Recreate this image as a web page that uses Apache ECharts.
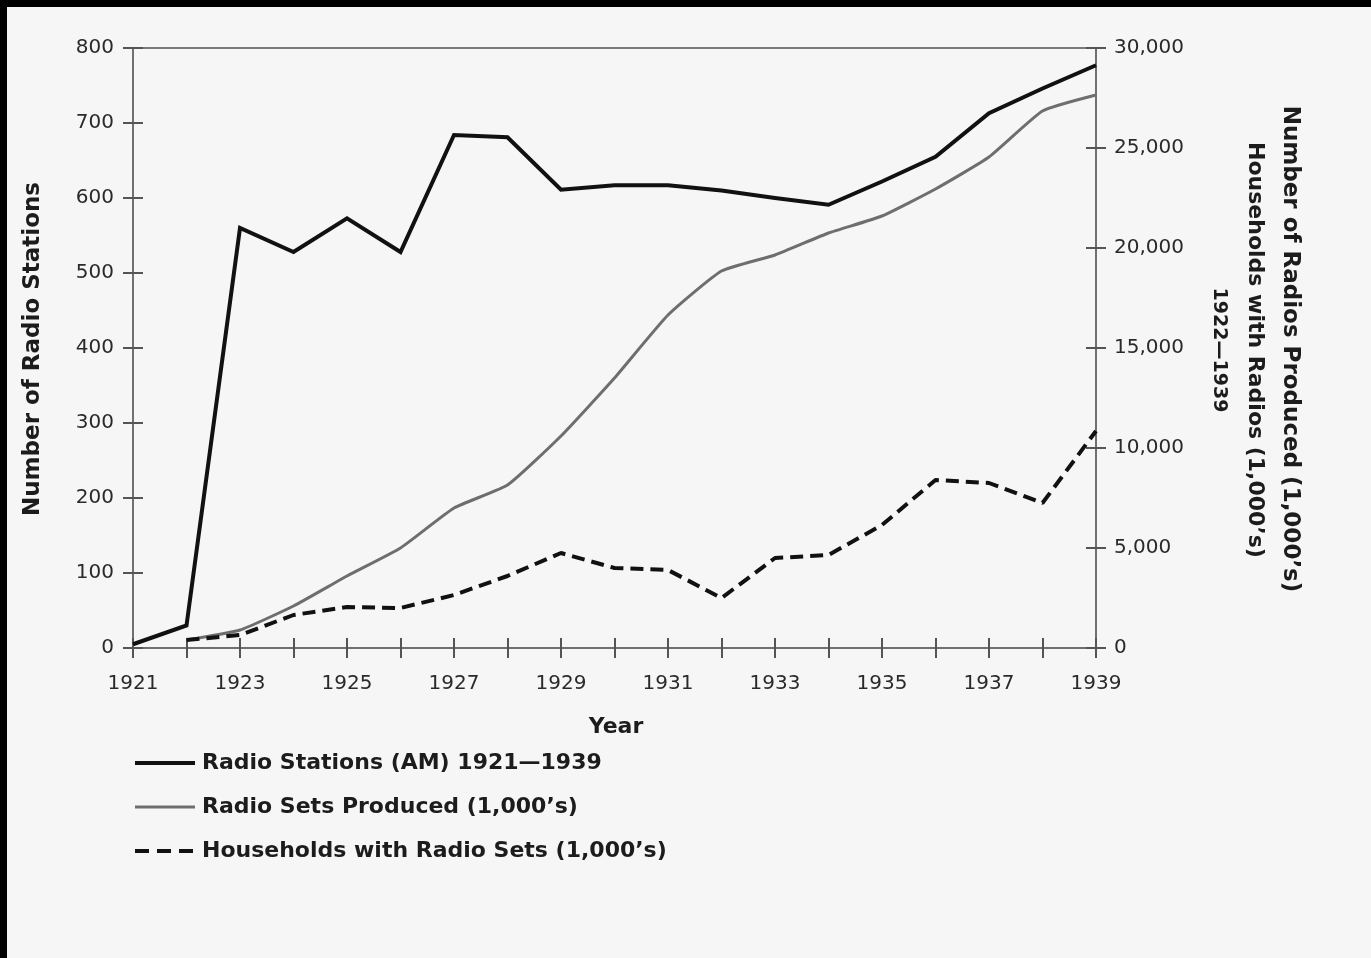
<!DOCTYPE html>
<html>
<head>
<meta charset="utf-8">
<script src="https://cdn.jsdelivr.net/npm/echarts@6/dist/echarts.min.js"></script>
<style>
  html, body { margin: 0; padding: 0; background: #f6f6f6; }
  #chart { width: 1371px; height: 958px; }
</style>
</head>
<body>
<div id="chart"></div>
<script>
const years = ['1921','1922','1923','1924','1925','1926','1927','1928','1929','1930','1931','1932','1933','1934','1935','1936','1937','1938','1939'];
const radioStations = [5, 30, 560, 528, 573, 528, 684, 681, 611, 617, 617, 610, 600, 591, 622, 655, 713, 746, 777];
const radioSetsProduced = [null, 400, 900, 2100, 3600, 5000, 7000, 8150, 10600, 13500, 16650, 18850, 19650, 20750, 21600, 22950, 24550, 26850, 27650];
const householdsWithRadio = [null, 400, 650, 1650, 2050, 2000, 2650, 3600, 4750, 4000, 3900, 2500, 4500, 4650, 6150, 8400, 8250, 7250, 10850];

const seriesNames = ['Radio Stations (AM) 1921\u20141939', 'Radio Sets Produced (1,000\u2019s)', 'Households with Radio Sets (1,000\u2019s)'];
const leftTitle = 'Number of Radio Stations';
const rightTitle1 = 'Number of Radios Produced (1,000\u2019s)';
const rightTitle2 = 'Households with Radios (1,000\u2019s)';
const rightTitle3 = '1922\u20141939';
const xTitle = 'Year';

const FONT = '"DejaVu Sans", "Open Sans", sans-serif';
const axisGray = '#707070';
const textColor = '#1c1c1c';

const chart = echarts.init(document.getElementById('chart'));
chart.setOption({
  backgroundColor: '#f6f6f6',
  animation: false,
  grid: { left: 133, right: 275, top: 48, bottom: 310, show: true, borderColor: '#7a7a7a', borderWidth: 2, backgroundColor: 'transparent' },
  legend: {
    orient: 'vertical', left: 133, top: 752, padding: 0,
    itemWidth: 60, itemHeight: 14, itemGap: 22,
    itemStyle: { opacity: 0 },
    textStyle: { fontFamily: FONT, fontWeight: 'bold', fontSize: 22, color: textColor, lineHeight: 22, padding: [0, 0, 0, 2] },
    data: [
      { name: seriesNames[0], lineStyle: { width: 4, color: '#111' } },
      { name: seriesNames[1], lineStyle: { width: 3, color: '#6e6e6e' } },
      { name: seriesNames[2], lineStyle: { width: 4, color: '#111', type: [14, 8] } }
    ]
  },
  xAxis: [
    {
      type: 'category', position: 'bottom', data: years, boundaryGap: false,
      axisLine: { lineStyle: { color: axisGray, width: 2 } },
      axisTick: { show: true, interval: 0, length: 10, lineStyle: { color: '#555', width: 2 } },
      axisLabel: { interval: 1, margin: 26, fontFamily: FONT, fontSize: 20, color: '#2a2a2a' },
      splitLine: { show: false }
    },
    {
      type: 'category', position: 'bottom', data: years, boundaryGap: false,
      axisLine: { show: false },
      axisTick: { show: true, inside: true, interval: 0, length: 10, lineStyle: { color: '#555', width: 2 } },
      axisLabel: { show: false },
      splitLine: { show: false }
    }
  ],
  yAxis: [
    {
      type: 'value', position: 'left', min: 0, max: 800, interval: 100,
      axisLine: { show: true, lineStyle: { color: axisGray, width: 2 } },
      axisTick: { show: true, length: 10, lineStyle: { color: '#555', width: 2 } },
      axisLabel: { margin: 19, fontFamily: FONT, fontSize: 20, color: '#2a2a2a' },
      splitLine: { show: false }
    },
    {
      type: 'value', position: 'right', min: 0, max: 30000, interval: 5000,
      axisLine: { show: true, lineStyle: { color: axisGray, width: 2 } },
      axisTick: { show: true, length: 10, lineStyle: { color: '#555', width: 2 } },
      axisLabel: { margin: 18, fontFamily: FONT, fontSize: 20, color: '#2a2a2a',
        formatter: v => v.toLocaleString('en-US') },
      splitLine: { show: false }
    },
    {
      type: 'value', position: 'left', min: 0, max: 800, interval: 100,
      axisLine: { show: false },
      axisTick: { show: true, inside: true, length: 10, lineStyle: { color: '#555', width: 2 } },
      axisLabel: { show: false }, splitLine: { show: false }
    },
    {
      type: 'value', position: 'right', min: 0, max: 30000, interval: 5000,
      axisLine: { show: false },
      axisTick: { show: true, inside: true, length: 10, lineStyle: { color: '#555', width: 2 } },
      axisLabel: { show: false }, splitLine: { show: false }
    }
  ],
  series: [
    {
      name: seriesNames[0], type: 'line', data: radioStations, yAxisIndex: 0,
      symbol: 'none', lineStyle: { color: '#111', width: 4, join: 'miter' }, itemStyle: { color: '#111' }, z: 5
    },
    {
      name: seriesNames[1], type: 'line', data: radioSetsProduced, yAxisIndex: 1,
      symbol: 'none', smooth: 0.15, lineStyle: { color: '#6e6e6e', width: 3 }, itemStyle: { color: '#6e6e6e' }, z: 4
    },
    {
      name: seriesNames[2], type: 'line', data: householdsWithRadio, yAxisIndex: 1,
      symbol: 'none', lineStyle: { color: '#111', width: 4, type: [13, 7] }, itemStyle: { color: '#111' }, z: 6
    }
  ],
  graphic: [
    { type: 'rect', left: 0, top: 0, shape: { width: 1371, height: 7 }, style: { fill: '#000' }, z: 100 },
    { type: 'rect', left: 0, top: 0, shape: { width: 7, height: 958 }, style: { fill: '#000' }, z: 100 },
    { type: 'text', x: 33, y: 349, rotation: Math.PI / 2,
      style: { text: leftTitle, fontFamily: FONT, fontWeight: 'bold', fontSize: 23, fill: textColor, align: 'center', verticalAlign: 'middle' } },
    { type: 'text', x: 1290, y: 349, rotation: -Math.PI / 2,
      style: { text: rightTitle1, fontFamily: FONT, fontWeight: 'bold', fontSize: 23, fill: textColor, align: 'center', verticalAlign: 'middle' } },
    { type: 'text', x: 1255, y: 350, rotation: -Math.PI / 2,
      style: { text: rightTitle2, fontFamily: FONT, fontWeight: 'bold', fontSize: 22, fill: textColor, align: 'center', verticalAlign: 'middle' } },
    { type: 'text', x: 1219, y: 350, rotation: -Math.PI / 2,
      style: { text: rightTitle3, fontFamily: FONT, fontWeight: 'bold', fontSize: 19, fill: textColor, align: 'center', verticalAlign: 'middle' } },
    { type: 'text', x: 616, y: 727,
      style: { text: xTitle, fontFamily: FONT, fontWeight: 'bold', fontSize: 22, fill: textColor, align: 'center', verticalAlign: 'middle' } }
  ]
});
</script>
</body>
</html>
